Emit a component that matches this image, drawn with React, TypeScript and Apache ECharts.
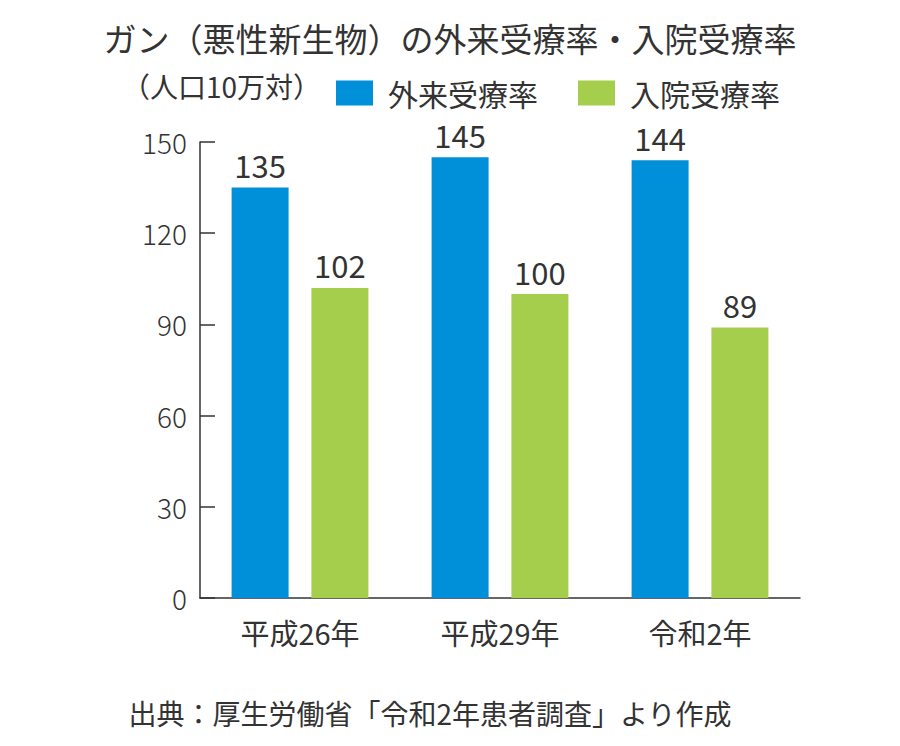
import React, { useEffect, useRef } from "react";
import * as echarts from "echarts";

const categories = ["平成26年", "平成29年", "令和2年"];
const outpatient = [135, 145, 144];
const inpatient = [102, 100, 89];
const seriesNames = ["外来受療率", "入院受療率"];
const yTicks = { min: 0, max: 150, interval: 30 };

const FONT = '"Noto Sans CJK JP", "Noto Sans", sans-serif';
const TEXT = "#333333";

export default function App() {
  const ref = useRef<HTMLDivElement>(null);
  useEffect(() => {
    if (!ref.current) return;
    const chart = echarts.init(ref.current, null, { renderer: "svg" });
    chart.setOption({
      animation: false,
      backgroundColor: "#ffffff",
      textStyle: { fontFamily: FONT },
      title: {
        text: "ガン（悪性新生物）の外来受療率・入院受療率",
        left: "center",
        top: 16,
        textStyle: { fontFamily: FONT, fontSize: 33, fontWeight: "normal", color: TEXT },
      },
      legend: {
        left: 331,
        top: 73,
        itemWidth: 37,
        itemHeight: 25,
        itemGap: 40,
        icon: "rect",
        data: seriesNames,
        textStyle: {
          fontFamily: FONT,
          fontSize: 30,
          lineHeight: 28,
          color: TEXT,
          padding: [0, 0, 0, 10],
        },
      },
      graphic: [
        {
          type: "text",
          left: 122,
          top: 72,
          style: { text: "（人口10万対）", font: `28px ${FONT}`, fill: TEXT },
        },
        {
          type: "text",
          x: 430,
          y: 713,
          style: {
            text: "出典：厚生労働省「令和2年患者調査」より作成",
            font: `28px ${FONT}`,
            fill: TEXT,
            align: "center",
            verticalAlign: "middle",
          },
        },
      ],
      grid: { left: 200, right: 100, top: 142, bottom: 148, containLabel: false },
      xAxis: {
        type: "category",
        data: categories,
        axisLine: { lineStyle: { color: "#333", width: 1.5 } },
        axisTick: { show: false },
        axisLabel: { fontFamily: FONT, fontSize: 29, color: TEXT, margin: 19 },
      },
      yAxis: {
        type: "value",
        min: yTicks.min,
        max: yTicks.max,
        interval: yTicks.interval,
        axisLine: { show: true, lineStyle: { color: "#333", width: 1.5 } },
        axisTick: { show: true, inside: true, length: 15, lineStyle: { color: "#333", width: 1.5 } },
        splitLine: { show: false },
        axisLabel: { fontFamily: FONT, fontSize: 28, fontWeight: 300, color: TEXT, margin: 13 },
      },
      series: [
        {
          name: seriesNames[0],
          type: "bar",
          data: outpatient,
          barWidth: 57,
          barGap: "40%",
          itemStyle: { color: "#0090da" },
          label: { show: true, position: "top", distance: 10, fontFamily: FONT, fontSize: 31, lineHeight: 26, color: TEXT },
        },
        {
          name: seriesNames[1],
          type: "bar",
          data: inpatient,
          barWidth: 57,
          barGap: "40%",
          itemStyle: { color: "#a5ce4c" },
          label: { show: true, position: "top", distance: 10, fontFamily: FONT, fontSize: 31, lineHeight: 26, color: TEXT },
        },
      ],
    });
    return () => chart.dispose();
  }, []);
  return (
    <div
      ref={ref}
      style={{ position: "fixed", left: 0, top: 0, width: 900, height: 746 }}
    />
  );
}
